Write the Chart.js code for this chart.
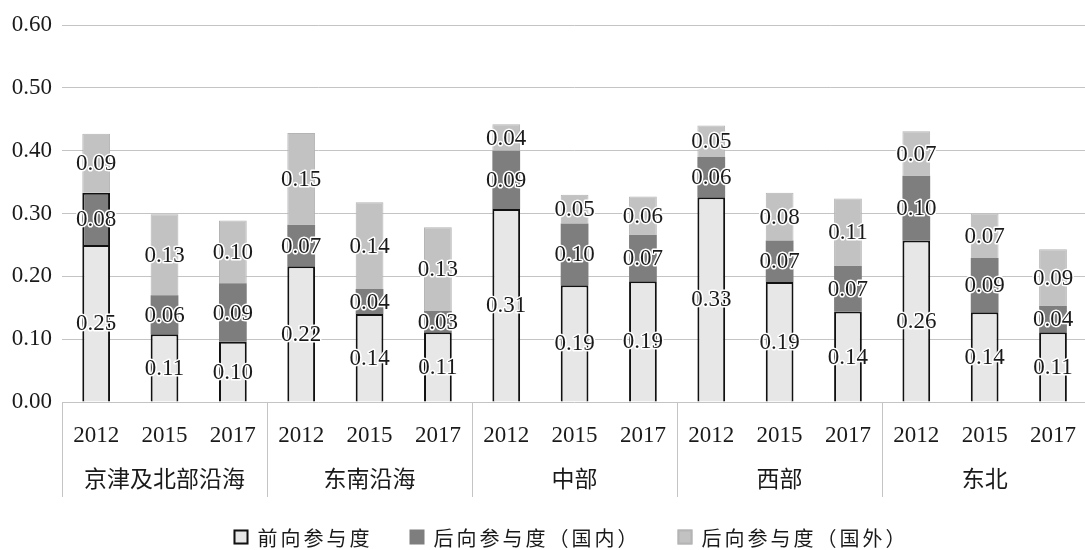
<!DOCTYPE html>
<html><head><meta charset="utf-8">
<script src="https://cdn.jsdelivr.net/npm/chart.js@4.4.1/dist/chart.umd.min.js"></script>
<style>html,body{margin:0;padding:0;background:#fff;overflow:hidden;}canvas{display:block;}</style>
</head><body>
<canvas id="c" width="1096" height="550"></canvas>
<script>
const yearLabels = ['2012','2015','2017','2012','2015','2017','2012','2015','2017','2012','2015','2017','2012','2015','2017'];
const groupLabels = ['京津及北部沿海','东南沿海','中部','西部','东北'];
const seriesNames = ['前向参与度','后向参与度（国内）','后向参与度（国外）'];
const forward  = [0.250,0.108,0.096, 0.216,0.140,0.111, 0.307,0.186,0.192, 0.326,0.191,0.144, 0.257,0.143,0.111];
const domestic = [0.083,0.062,0.093, 0.066,0.040,0.034, 0.093,0.098,0.074, 0.064,0.066,0.073, 0.103,0.086,0.042];
const foreign  = [0.094,0.129,0.100, 0.146,0.138,0.133, 0.042,0.046,0.061, 0.050,0.076,0.107, 0.071,0.071,0.090];
const yTicks = [0,0.1,0.2,0.3,0.4,0.5,0.6];

const TEXT = '#1a1a1a';
const SERIF = '"Liberation Serif","DejaVu Serif",serif';
const CJK = '"Noto Sans CJK SC","Noto Sans",sans-serif';

const valueLabels = {
  id: 'valueLabels',
  afterDatasetsDraw(chart) {
    const ctx = chart.ctx;
    ctx.save();
    ctx.font = '23px ' + SERIF;
    ctx.textAlign = 'center';
    ctx.textBaseline = 'middle';
    ctx.lineJoin = 'round';
    chart.data.datasets.forEach((ds, i) => {
      const meta = chart.getDatasetMeta(i);
      meta.data.forEach((el, j) => {
        const t = ds.data[j].toFixed(2);
        const y = (el.y + el.base) / 2 + 1;
        ctx.lineWidth = 3; ctx.strokeStyle = '#ffffff';
        ctx.strokeText(t, el.x, y);
        ctx.fillStyle = TEXT;
        ctx.fillText(t, el.x, y);
      });
    });
    ctx.restore();
  }
};

const groupSeparators = {
  id: 'groupSeparators',
  afterDraw(chart) {
    const xs = chart.scales.x, x2 = chart.scales.x2, ctx = chart.ctx;
    const n = groupLabels.length, per = yearLabels.length / n;
    ctx.save();
    ctx.strokeStyle = '#c4c4c4'; ctx.lineWidth = 1;
    for (let k = 0; k <= n; k++) {
      let px;
      if (k === 0) px = xs.left;
      else if (k === n) px = xs.right;
      else px = (xs.getPixelForValue(k*per - 1) + xs.getPixelForValue(k*per)) / 2;
      px = Math.round(px) + 0.5;
      ctx.beginPath(); ctx.moveTo(px, xs.top); ctx.lineTo(px, x2.bottom); ctx.stroke();
    }
    ctx.restore();
  }
};

const customLegend = {
  id: 'customLegend',
  afterDraw(chart) {
    const ctx = chart.ctx;
    ctx.save();
    ctx.font = '20px ' + CJK;
    try { ctx.letterSpacing = '3px'; } catch(e) {}
    ctx.textBaseline = 'middle';
    ctx.textAlign = 'left';
    const box = 15, gapBox = 9, gapItem = 37;
    const items = chart.data.datasets.map(ds => ({ds, w: ctx.measureText(ds.label).width}));
    const total = items.reduce((s, it) => s + box + gapBox + it.w, 0) + gapItem * (items.length - 1);
    let x = 571 - total / 2;
    const yc = 537;
    items.forEach(it => {
      const ds = it.ds;
      ctx.fillStyle = ds.backgroundColor;
      ctx.fillRect(x, yc - box/2, box, box);
      const bw = Array.isArray(ds.borderWidth) ? ds.borderWidth[1] : ds.borderWidth;
      const bc = Array.isArray(ds.borderColor) ? ds.borderColor[1] : ds.borderColor;
      if (bw) { ctx.lineWidth = 2; ctx.strokeStyle = bc; ctx.strokeRect(x + 1, yc - box/2 + 1, box - 2, box - 2); }
      ctx.fillStyle = TEXT;
      ctx.fillText(ds.label, x + box + gapBox, yc + 1);
      x += box + gapBox + it.w + gapItem;
    });
    ctx.restore();
  }
};

new Chart(document.getElementById('c'), {
  type: 'bar',
  data: {
    labels: yearLabels,
    datasets: [
      { label: seriesNames[0], data: forward, backgroundColor: '#e7e7e8', borderColor: '#111111', borderWidth: 2 },
      { label: seriesNames[1], data: domestic, backgroundColor: '#7e7e7f',
        borderColor: domestic.map((v, i) => i === 0 ? '#111111' : '#7e7e7f'),
        borderWidth: domestic.map((v, i) => i === 0 ? 2 : 0) },
      { label: seriesNames[2], data: foreign, backgroundColor: '#c2c2c3', borderColor: '#b4b4b5', borderWidth: 1 }
    ]
  },
  options: {
    responsive: false,
    animation: false,
    layout: { padding: { top: 25, bottom: 53, left: 0, right: 0 } },
    datasets: { bar: { categoryPercentage: 1, barPercentage: 0.406 } },
    plugins: { legend: { display: false }, tooltip: { enabled: false } },
    scales: {
      x: {
        stacked: true,
        grid: { display: false, drawTicks: false },
        border: { display: false },
        ticks: { font: { family: SERIF, size: 23 }, color: TEXT, padding: 20, maxRotation: 0, autoSkip: false },
        afterFit(s) { s.height = 55; }
      },
      x2: {
        type: 'category',
        labels: groupLabels,
        position: 'bottom',
        offset: true,
        grid: { display: false, drawTicks: false },
        border: { display: false },
        ticks: { font: { family: CJK, size: 23 }, color: TEXT, padding: 7, maxRotation: 0, autoSkip: false },
        afterFit(s) { s.height = 40; }
      },
      y: {
        stacked: true,
        min: 0, max: 0.6,
        afterBuildTicks(s) { s.ticks = yTicks.map(v => ({ value: v })); },
        grid: { color: '#c4c4c4', lineWidth: 1, drawTicks: false },
        border: { display: false },
        ticks: { font: { family: SERIF, size: 23 }, color: TEXT, padding: 10, callback: v => Number(v).toFixed(2) },
        afterFit(s) { s.width = 62; }
      }
    }
  },
  plugins: [valueLabels, groupSeparators, customLegend]
});
</script>
</body></html>
